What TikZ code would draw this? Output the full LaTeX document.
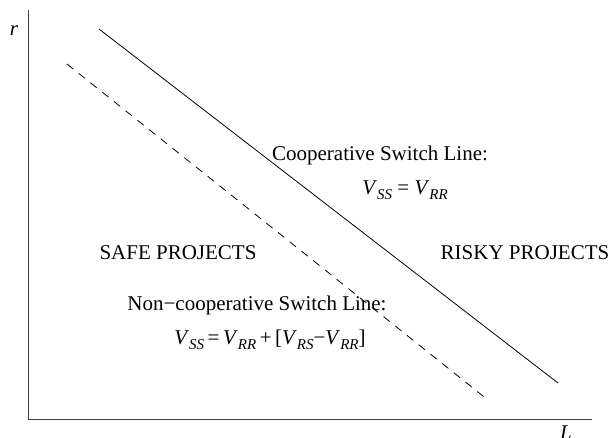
\documentclass[tikz,border=0pt]{standalone}
\usepackage{fontspec}
\setmainfont{Liberation Serif}
\newcommand\sbs[1]{\raisebox{-5pt}{\fontsize{15}{15}\selectfont\itshape #1}}
\newcommand\VV[1]{\textit{V}\sbs{#1}}
\begin{document}
\begin{tikzpicture}[x=1pt,y=-1pt,
  lbl/.style={inner sep=0pt,font=\fontsize{21}{25}\selectfont},
  axisline/.style={line width=1pt,black!75},
  switchline/.style={line width=0.8pt},
  ncline/.style={line width=0.8pt,dash pattern=on 8pt off 7pt}]
\useasboundingbox (0,0) rectangle (613,437);
% axes
\coordinate (O) at (28,419);
\coordinate (Ytop) at (28,10);
\coordinate (Xend) at (592,419);
\draw[axisline] (Ytop) -- (O) -- (Xend);
\node[lbl,font=\fontsize{21}{25}\selectfont\itshape] (r) at (14,31) {r};
\node[lbl,font=\fontsize{21}{25}\selectfont\itshape] (L) at (566,433) {L};
% lines
\coordinate (c1) at (99,29);
\coordinate (c2) at (558,383);
\draw[switchline] (c1) -- (c2);
\coordinate (n1) at (67,64);
\coordinate (n2) at (488,400);
\draw[ncline] (n1) -- (n2);
% labels
\node[lbl] (coop) at (380,155) {Cooperative Switch Line:};
\node[lbl] (coopeq) at (405,190) {\VV{SS} = \VV{RR}};
\node[lbl] (safe) at (178,253) {SAFE PROJECTS};
\node[lbl] (risky) at (525,253) {RISKY PROJECTS};
\node[lbl] (ncoop) at (257,305) {Non\textminus cooperative Switch Line:};
\node[lbl] (ncoopeq) at (270,340) {\VV{SS}\,=\,\VV{RR}\,+\,[\VV{RS}\textminus\VV{RR}]};
\end{tikzpicture}
\end{document}
